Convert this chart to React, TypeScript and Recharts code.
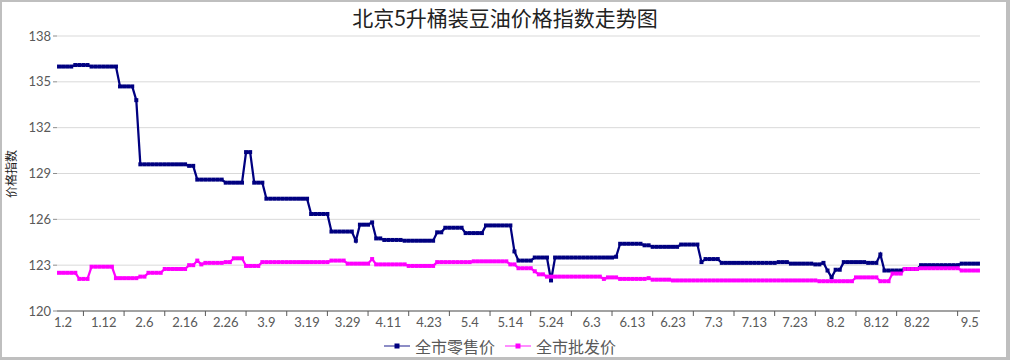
import React from 'react';
import { LineChart, Line, XAxis, YAxis, CartesianGrid } from 'recharts';

// 全市零售价, one row per label interval (10 points)
const retailRows = [
  [136.0, 136.0, 136.0, 136.0, 136.1, 136.1, 136.1, 136.1, 136.0, 136.0],
  [136.0, 136.0, 136.0, 136.0, 136.0, 134.7, 134.7, 134.7, 134.7, 133.8],
  [129.6, 129.6, 129.6, 129.6, 129.6, 129.6, 129.6, 129.6, 129.6, 129.6],
  [129.6, 129.6, 129.5, 129.5, 128.6, 128.6, 128.6, 128.6, 128.6, 128.6],
  [128.6, 128.4, 128.4, 128.4, 128.4, 128.4, 130.4, 130.4, 128.4, 128.4],
  [128.4, 127.35, 127.35, 127.35, 127.35, 127.35, 127.35, 127.35, 127.35, 127.35],
  [127.35, 127.35, 126.35, 126.35, 126.35, 126.35, 126.35, 125.2, 125.2, 125.2],
  [125.2, 125.2, 125.2, 124.6, 125.65, 125.65, 125.65, 125.8, 124.75, 124.75],
  [124.65, 124.65, 124.65, 124.65, 124.65, 124.6, 124.6, 124.6, 124.6, 124.6],
  [124.6, 124.6, 124.6, 125.15, 125.15, 125.45, 125.45, 125.45, 125.45, 125.45],
  [125.1, 125.1, 125.1, 125.1, 125.1, 125.6, 125.6, 125.6, 125.6, 125.6],
  [125.6, 125.6, 123.9, 123.3, 123.3, 123.3, 123.3, 123.5, 123.5, 123.5],
  [123.5, 122.0, 123.5, 123.5, 123.5, 123.5, 123.5, 123.5, 123.5, 123.5],
  [123.5, 123.5, 123.5, 123.5, 123.5, 123.5, 123.5, 123.55, 124.4, 124.4],
  [124.4, 124.4, 124.4, 124.4, 124.3, 124.3, 124.2, 124.2, 124.2, 124.2],
  [124.2, 124.2, 124.2, 124.35, 124.35, 124.35, 124.35, 124.35, 123.2, 123.4],
  [123.4, 123.4, 123.4, 123.15, 123.15, 123.15, 123.15, 123.15, 123.15, 123.15],
  [123.15, 123.15, 123.15, 123.15, 123.15, 123.15, 123.15, 123.2, 123.2, 123.2],
  [123.1, 123.1, 123.1, 123.1, 123.1, 123.1, 123.05, 123.05, 123.15, 122.65],
  [122.2, 122.7, 122.7, 123.2, 123.2, 123.2, 123.2, 123.2, 123.2, 123.15],
  [123.15, 123.15, 123.7, 122.65, 122.65, 122.65, 122.65, 122.65, 122.75, 122.75],
  [122.75, 122.75, 123.0, 123.0, 123.0, 123.0, 123.0, 123.0, 123.0, 123.0],
  [123.0, 123.0, 123.1, 123.1, 123.1, 123.1, 123.1],
];

// 全市批发价
const wholesaleRows = [
  [122.5, 122.5, 122.5, 122.5, 122.5, 122.1, 122.1, 122.1, 122.9, 122.9],
  [122.9, 122.9, 122.9, 122.9, 122.15, 122.15, 122.15, 122.15, 122.15, 122.15],
  [122.25, 122.25, 122.5, 122.5, 122.5, 122.5, 122.75, 122.75, 122.75, 122.75],
  [122.75, 122.75, 123.0, 123.0, 123.3, 123.05, 123.15, 123.15, 123.15, 123.15],
  [123.15, 123.2, 123.2, 123.45, 123.45, 123.45, 122.95, 122.95, 122.95, 122.95],
  [123.2, 123.2, 123.2, 123.2, 123.2, 123.2, 123.2, 123.2, 123.2, 123.2],
  [123.2, 123.2, 123.2, 123.2, 123.2, 123.2, 123.2, 123.3, 123.3, 123.3],
  [123.3, 123.1, 123.1, 123.1, 123.1, 123.1, 123.1, 123.4, 123.05, 123.05],
  [123.05, 123.05, 123.05, 123.05, 123.05, 123.05, 122.95, 122.95, 122.95, 122.95],
  [122.95, 122.95, 122.95, 123.2, 123.2, 123.2, 123.2, 123.2, 123.2, 123.2],
  [123.2, 123.2, 123.25, 123.25, 123.25, 123.25, 123.25, 123.25, 123.25, 123.25],
  [123.25, 123.05, 123.05, 122.8, 122.8, 122.8, 122.8, 122.6, 122.4, 122.4],
  [122.25, 122.25, 122.25, 122.25, 122.25, 122.25, 122.25, 122.25, 122.25, 122.25],
  [122.25, 122.25, 122.25, 122.25, 122.1, 122.2, 122.2, 122.2, 122.1, 122.1],
  [122.1, 122.1, 122.1, 122.1, 122.1, 122.15, 122.05, 122.05, 122.05, 122.05],
  [122.05, 122.0, 122.0, 122.0, 122.0, 122.0, 122.0, 122.0, 122.0, 122.0],
  [122.0, 122.0, 122.0, 122.0, 122.0, 122.0, 122.0, 122.0, 122.0, 122.0],
  [122.0, 122.0, 122.0, 122.0, 122.0, 122.0, 122.0, 122.0, 122.0, 122.0],
  [122.0, 122.0, 122.0, 122.0, 122.0, 122.0, 122.0, 121.95, 121.95, 121.95],
  [121.95, 121.95, 121.95, 121.95, 121.95, 121.95, 122.2, 122.2, 122.2, 122.2],
  [122.2, 122.2, 121.95, 121.95, 121.95, 122.45, 122.45, 122.45, 122.75, 122.75],
  [122.75, 122.75, 122.8, 122.8, 122.8, 122.8, 122.8, 122.8, 122.8, 122.8],
  [122.8, 122.8, 122.65, 122.65, 122.65, 122.65, 122.65],
];

const tickLabels = ['1.2', '1.12', '2.6', '2.16', '2.26', '3.9', '3.19', '3.29', '4.11', '4.23', '5.4', '5.14',
  '5.24', '6.3', '6.13', '6.23', '7.3', '7.13', '7.23', '8.2', '8.12', '8.22', '9.5'];
const tickIndex = [1, 11, 21, 31, 41, 51, 61, 71, 81, 91, 101, 111, 121, 131, 141, 151, 161, 171, 181, 191, 201, 211, 224];
const markIndex = [6, 16, 26, 36, 46, 56, 66, 76, 86, 96, 106, 116, 126, 136, 146, 156, 166, 176, 186, 196, 206, 221];
const yTicks = [120, 123, 126, 129, 132, 135, 138];

const retail = retailRows.flat();
const wholesale = wholesaleRows.flat();
const data = retail.map((v, i) => ({ x: i, retail: v, wholesale: wholesale[i] }));

const NAVY = '#000080';
const MAGENTA = '#ff00ff';
const TEXT = '#595959';
const CJK = '"Noto Sans CJK SC", "Noto Sans", sans-serif';

const squareDot = (color: string) => (props: any) => {
  const { cx, cy, index } = props;
  if (cx == null || cy == null) return <g key={`e-${index}`} />;
  return <rect key={`d-${index}`} x={cx - 2} y={cy - 2} width={4} height={4} fill={color} />;
};

const XTick = (props: any) => {
  const { x, y, payload } = props;
  const v = payload.value;
  const li = tickIndex.indexOf(v);
  if (li >= 0) {
    return (
      <text x={x} y={y + 7} dy="0.71em" textAnchor="middle" fill={TEXT} fontSize={13} fontFamily="Lato, sans-serif">
        {tickLabels[li]}
      </text>
    );
  }
  return <line x1={x} x2={x} y1={y} y2={y + 5} stroke="#595959" strokeWidth={1} />;
};

const LegendItem = ({ color, name }: { color: string; name: string }) => (
  <div style={{ display: 'flex', alignItems: 'center', marginRight: 10 }}>
    <svg width={26} height={10} style={{ marginRight: 5 }}>
      <line x1={0} x2={26} y1={5} y2={5} stroke={color} strokeWidth={1.5} strokeOpacity={0.6} />
      <rect x={10.5} y={2.5} width={5} height={5} fill={color} />
    </svg>
    <span style={{ fontSize: 16, color: TEXT, fontFamily: CJK }}>{name}</span>
  </div>
);

export default function App() {
  const allTicks = [...tickIndex, ...markIndex].sort((a, b) => a - b);
  return (
    <div style={{ position: 'fixed', left: 0, top: 0, width: 1010, height: 360, background: '#fff' }}>
      <div
        style={{
          position: 'absolute', left: 0, top: 5, width: 1010, textAlign: 'center',
          fontSize: 21, color: '#222', fontFamily: CJK, lineHeight: '24px',
        }}
      >
        北京5升桶装豆油价格指数走势图
      </div>
      <div style={{ position: 'absolute', left: 0, top: 0 }}>
        <LineChart width={1010} height={360} data={data} margin={{ top: 36, right: 30, left: 0, bottom: 19 }}>
          <CartesianGrid vertical={false} stroke="#d9d9d9" />
          <XAxis
            dataKey="x"
            type="number"
            domain={[-0.5, 226.5]}
            ticks={allTicks}
            interval={0}
            height={30}
            tickLine={false}
            tickSize={0}
            tickMargin={0}
            tick={<XTick />}
            axisLine={{ stroke: '#595959' }}
          />
          <YAxis
            type="number"
            domain={[120, 138]}
            ticks={yTicks}
            interval={0}
            width={57}
            axisLine={false}
            tickSize={4}
            tickMargin={2}
            tickLine={{ stroke: '#8c8c8c' }}
            tick={{ fill: TEXT, fontSize: 13, fontFamily: 'Lato, sans-serif' }}
            label={{
              content: () => (
                <text x={13} y={174} transform="rotate(-90 13 174)" textAnchor="middle" dominantBaseline="middle"
                  fontSize={12} fill="#222" fontFamily={CJK}>
                  价格指数
                </text>
              ),
            }}
          />
          <Line
            type="linear"
            dataKey="retail"
            stroke={NAVY}
            strokeWidth={2.25}
            dot={squareDot(NAVY)}
            activeDot={false}
            isAnimationActive={false}
            name="全市零售价"
          />
          <Line
            type="linear"
            dataKey="wholesale"
            stroke={MAGENTA}
            strokeWidth={2.25}
            dot={squareDot(MAGENTA)}
            activeDot={false}
            isAnimationActive={false}
            name="全市批发价"
          />
        </LineChart>
      </div>
      <div style={{ position: 'absolute', left: 0, top: 334, width: 1010, display: 'flex', justifyContent: 'center' }}>
        <LegendItem color={NAVY} name="全市零售价" />
        <LegendItem color={MAGENTA} name="全市批发价" />
      </div>
      <div
        style={{
          position: 'absolute', left: 0, top: 0, width: 1010, height: 360, boxSizing: 'border-box',
          borderStyle: 'solid', borderColor: '#bfbfbf', borderWidth: '2px 4px 3px 2px', pointerEvents: 'none',
        }}
      />
    </div>
  );
}
